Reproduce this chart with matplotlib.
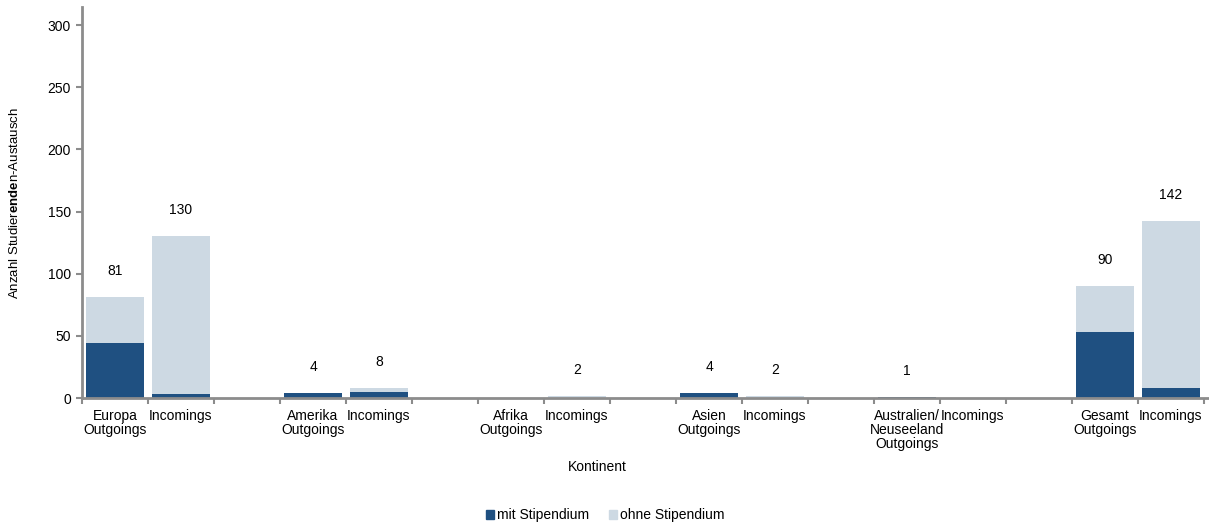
import matplotlib
matplotlib.use("Agg")
import matplotlib.pyplot as plt
import numpy as np
from matplotlib.patches import Patch

plt.rcParams['font.family'] = ['Liberation Sans', 'DejaVu Sans']
plt.rcParams['mathtext.fontset'] = 'custom'
plt.rcParams['mathtext.rm'] = 'Liberation Sans'
plt.rcParams['mathtext.bf'] = 'Liberation Sans:bold'

categories = ["Europa\nOutgoings", "Incomings", "",
              "Amerika\nOutgoings", "Incomings", "",
              "Afrika\nOutgoings", "Incomings", "",
              "Asien\nOutgoings", "Incomings", "",
              "Australien/\nNeuseeland\nOutgoings", "Incomings", "",
              "Gesamt\nOutgoings", "Incomings"]
mit = [44, 3, 0, 4, 5, 0, 0, 0, 0, 4, 0, 0, 1, 0, 0, 53, 8]
ohne = [37, 127, 0, 0, 3, 0, 0, 2, 0, 0, 2, 0, 0, 0, 0, 37, 134]
labels = ["81", "130", "", "4", "8", "", "", "2", "", "4", "2", "", "1", "", "", "90", "142"]

dark = "#1F5081"
light = "#CDD9E3"
gray = "#8C8C8C"

fig = plt.figure(figsize=(12.09, 5.23), dpi=100)
ax = fig.add_axes([82/1209, 125/523, (1209-82)/1209, (398-7)/523])
x = np.arange(len(categories))
ax.bar(x, mit, width=0.88, color=dark, zorder=2)
ax.bar(x, ohne, width=0.88, bottom=mit, color=light, zorder=2)
for xi, m, o, lab in zip(x, mit, ohne, labels):
    if lab:
        ax.annotate(lab, (xi, m + o), xytext=(0, 26), textcoords='offset pixels',
                    ha='center', va='center', fontsize=10)

ax.set_xlim(-0.5, 16.5 + 5/66)
ax.set_ylim(0, 314.5)
ax.set_yticks([0, 50, 100, 150, 200, 250, 300])
ax.set_xticks(np.arange(-0.5, 17, 1), minor=False)
ax.set_xticklabels([])
ax.set_xticks(x, minor=True)
ax.set_xticklabels(categories, minor=True, fontsize=10, linespacing=1.0)
ax.tick_params(axis='x', which='minor', length=0, pad=8)
ax.tick_params(axis='x', which='major', length=4, width=1.5, color=gray, direction='out')
ax.tick_params(axis='y', length=4, width=1.5, color=gray, labelsize=10, pad=4)
for s in ['top', 'right']:
    ax.spines[s].set_visible(False)
for s in ['left', 'bottom']:
    ax.spines[s].set_color(gray)
    ax.spines[s].set_linewidth(2)

fig.text(15/1209, 1 - 203/523, r"Anzahl Studier$\mathbf{ende}$n-Austausch", rotation=90,
         ha='center', va='center', fontsize=9.5)
fig.text(597/1209, 1 - 467/523, "Kontinent", ha='center', va='center', fontsize=10)

handles = [Patch(color=dark, label="mit Stipendium"), Patch(color=light, label="ohne Stipendium")]
fig.legend(handles=handles, loc='center', bbox_to_anchor=(605/1209, 1 - 515/523), ncol=2,
           frameon=False, fontsize=10, handlelength=0.6, handleheight=0.6, handletextpad=0.2,
           columnspacing=1.4)

fig.savefig("out.png", dpi=100)
